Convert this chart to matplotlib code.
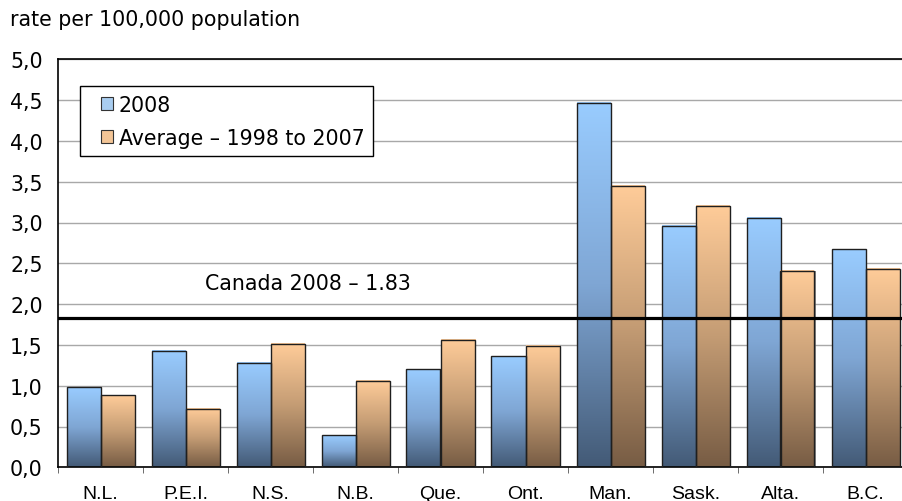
import numpy as np
import matplotlib.pyplot as plt
import matplotlib.transforms as mtransforms
from matplotlib.colors import LinearSegmentedColormap
from matplotlib.patches import Patch, Rectangle
from matplotlib.legend_handler import HandlerPatch

# rates per 100,000
provinces = ["N.L.", "P.E.I.", "N.S.", "N.B.", "Que.", "Ont.", "Man.", "Sask.", "Alta.", "B.C."]
rate_2008 = [0.98, 1.43, 1.28, 0.39, 1.20, 1.36, 4.47, 2.96, 3.06, 2.67]
rate_avg = [0.88, 0.72, 1.51, 1.06, 1.56, 1.49, 3.45, 3.20, 2.41, 2.43]
canada_2008 = 1.83
series_labels = ["2008", "Average \u2013 1998 to 2007"]
yticks = np.arange(0, 5.01, 0.5)
ytick_labels = [f"{v:.1f}".replace(".", ",") for v in yticks]

FS = 14.8

fig = plt.figure(figsize=(9.02, 5.02), dpi=100)
# right edge of the plot runs a bit past the image, as in the reference
ax = fig.add_axes([58 / 902, 33.7 / 502, 850 / 902, 408 / 502])

blue_cmap = LinearSegmentedColormap.from_list("blue", ["#435a76", "#7fa6d4", "#99ccff"])
tan_cmap = LinearSegmentedColormap.from_list("tan", ["#775c44", "#c49c74", "#ffcc99"])
grad = np.linspace(0, 1, 256).reshape(-1, 1)

x = np.arange(len(provinces))
w = 0.4

# soft drop shadow a couple of pixels to the right
shadow_tr = mtransforms.offset_copy(ax.transData, fig=fig, x=1.5, y=0, units="dots")
for off, vals in [(-w / 2, rate_2008), (w / 2, rate_avg)]:
    ax.bar(x + off, vals, w, color="#5a5a5a", alpha=0.7, lw=0, zorder=1.9, transform=shadow_tr)

bars_a = ax.bar(x - w / 2, rate_2008, w, facecolor="none", edgecolor="#1f1f1f", lw=1.0, zorder=3)
bars_b = ax.bar(x + w / 2, rate_avg, w, facecolor="none", edgecolor="#1f1f1f", lw=1.0, zorder=3)

# vertical gradient inside every bar
for bars, cmap in [(bars_a, blue_cmap), (bars_b, tan_cmap)]:
    for b in bars:
        x0, h = b.get_x(), b.get_height()
        ax.imshow(grad, cmap=cmap, origin="lower", aspect="auto",
                  extent=[x0, x0 + b.get_width(), 0, h], zorder=2)

ax.axhline(canada_2008, color="black", lw=2.3, zorder=4)
ax.text(1.235, 2.26, f"Canada 2008 \u2013 {canada_2008:.2f}", fontsize=FS,
        family="DejaVu Sans", va="center", ha="left")

ax.set_xlim(-0.5, len(provinces) - 0.5)
ax.set_ylim(0, 5)
ax.set_yticks(yticks)
ax.set_yticklabels(ytick_labels, fontsize=FS, family="DejaVu Sans")
ax.set_xticks(x)
ax.set_xticklabels(provinces, fontsize=14, family="Liberation Sans")
ax.set_xticks(np.arange(-0.5, len(provinces), 1), minor=True)
ax.tick_params(axis="x", which="major", length=0, pad=12.5)
ax.tick_params(axis="x", which="minor", length=4, color="#555555")
ax.tick_params(axis="y", length=0, pad=11)

ax.yaxis.grid(True, color="#a8a8a8", lw=1)
ax.set_axisbelow(True)
for s in ["left", "bottom", "top"]:
    ax.spines[s].set_color("black")
    ax.spines[s].set_linewidth(1.2)
ax.spines["right"].set_visible(False)


def small_square(legend, orig_handle, xdescent, ydescent, width, height, fontsize):
    size = 0.62 * fontsize
    return Rectangle((-xdescent + width - size, -ydescent + (height - size) / 2), size, size)


handles = [Patch(facecolor="#a9cdf0", edgecolor="#333333", lw=0.8),
           Patch(facecolor="#f3c596", edgecolor="#333333", lw=0.8)]
leg = ax.legend(handles, series_labels, loc="upper left", bbox_to_anchor=(0.026, 0.934),
                prop={"family": "DejaVu Sans", "size": FS}, fancybox=False,
                framealpha=1, edgecolor="black", handlelength=1.2, handleheight=0.7,
                handletextpad=0.27, labelspacing=0.62, borderpad=0.42, borderaxespad=0,
                handler_map={Patch: HandlerPatch(patch_func=small_square)})
leg.get_frame().set_linewidth(1.0)
leg.set_zorder(5)

fig.text(10 / 902, 1 - 20 / 502, "rate per 100,000 population", fontsize=FS,
         family="DejaVu Sans", va="center", ha="left")

fig.savefig("out.png", dpi=100)
